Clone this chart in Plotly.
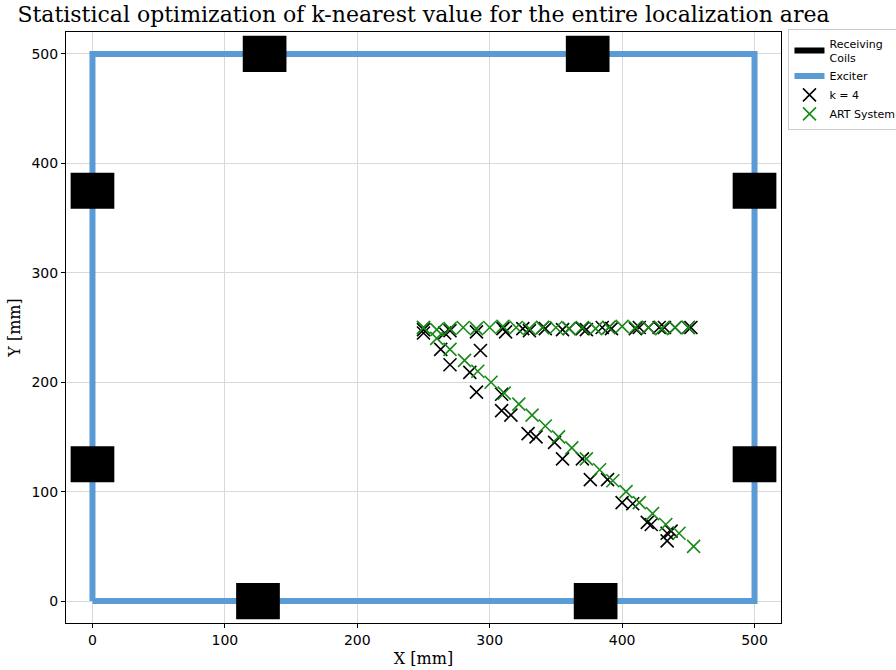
import plotly.graph_objects as go

# Receiving coil centres [mm] and their square footprint size
coil_cx = [130, 374, 125, 380, 0, 0, 500, 500]
coil_cy = [500, 500, 0, 0, 375, 125, 375, 125]
coil_size = 33

# Exciter loop corners [mm]
exciter_x = [0, 500, 500, 0, 0]
exciter_y = [0, 0, 500, 500, 0]

# Estimated positions with k = 4
k4_x = [250, 250, 266, 270, 290, 310, 312, 325, 330, 340, 342, 355, 360, 370, 373,
        385, 390, 392, 410, 413, 420, 428, 432, 440, 450, 452,
        263, 270, 285, 290, 293, 309, 309, 316, 329, 335, 349, 355, 370, 376, 389,
        400, 408, 419, 422, 434, 434, 437]
k4_y = [248, 245, 245, 247, 246, 249, 246, 249, 247, 250, 249, 248, 249, 249, 248,
        250, 250, 249, 249, 250, 250, 250, 250, 250, 250, 250,
        230, 216, 209, 191, 229, 189, 174, 170, 153, 150, 145, 130, 130, 111, 111,
        90, 89, 72, 70, 62, 55, 64]

# Reference positions from the ART tracking system
art_x = [250, 260, 270, 280, 290, 300, 310, 320, 330, 340, 350, 360, 370, 380, 390,
         400, 410, 420, 430, 440, 450,
         250, 260, 270, 281, 291, 301, 311, 322, 332, 342, 352, 362, 373, 383, 393,
         403, 413, 423, 433, 443, 454]
art_y = [250, 248, 249, 250, 249, 250, 251, 250, 249, 250, 250, 249, 250, 249, 250,
         251, 250, 250, 249, 250, 250,
         250, 240, 230, 220, 210, 200, 190, 180, 170, 160, 150, 140, 130, 120, 110,
         100, 90, 80, 70, 62, 50]

fig = go.Figure()

# Exciter loop
fig.add_trace(go.Scatter(
    x=exciter_x, y=exciter_y, mode="lines", name="Exciter",
    line=dict(color="#5B9BD5", width=6), legendrank=2,
))

# Receiving coils as filled squares
rx, ry = [], []
h = coil_size / 2
for cx, cy in zip(coil_cx, coil_cy):
    rx += [cx - h, cx + h, cx + h, cx - h, cx - h, None]
    ry += [cy - h, cy - h, cy + h, cy + h, cy - h, None]
fig.add_trace(go.Scatter(
    x=rx, y=ry, mode="none", fill="toself", fillcolor="black",
    name="Receiving<br>Coils", legendrank=1,
))

fig.add_trace(go.Scatter(
    x=k4_x, y=k4_y, mode="markers", name="k = 4", legendrank=3,
    marker=dict(symbol="x-thin", size=13, line=dict(color="black", width=1.6)),
))
fig.add_trace(go.Scatter(
    x=art_x, y=art_y, mode="markers", name="ART System", legendrank=4,
    marker=dict(symbol="x-thin", size=13, line=dict(color="#178a17", width=1.6)),
))

axis_common = dict(
    range=[-20, 520], tickvals=[0, 100, 200, 300, 400, 500],
    showgrid=True, gridcolor="#d9d9d9", gridwidth=1, zeroline=False,
    showline=True, linecolor="black", linewidth=1, mirror=True,
    ticks="outside", ticklen=4, tickcolor="black",
    tickfont=dict(family="DejaVu Sans", size=14, color="black"),
)

fig.update_layout(
    width=896, height=670,
    margin=dict(l=66, r=115, t=32, b=47, autoexpand=False),
    paper_bgcolor="white", plot_bgcolor="white",
    title=dict(
        text="Statistical optimization of k-nearest value for the entire localization area",
        font=dict(family="DejaVu Serif", size=22, color="black"),
        x=0.5, xanchor="center", xref="paper", y=0.99, yanchor="top",
    ),
    xaxis=dict(axis_common, title=dict(text="X [mm]", standoff=6,
               font=dict(family="DejaVu Serif", size=16, color="black"))),
    yaxis=dict(axis_common, title=dict(text="Y [mm]", standoff=6,
               font=dict(family="DejaVu Serif", size=16, color="black"))),
    legend=dict(
        xref="container", yref="container",
        x=0.880, y=0.957, xanchor="left", yanchor="top",
        bordercolor="#cccccc", borderwidth=1, bgcolor="white",
        font=dict(family="DejaVu Sans", size=11, color="black"),
        tracegroupgap=0, itemwidth=30,
    ),
    showlegend=True,
)

fig.write_html("out.html")
